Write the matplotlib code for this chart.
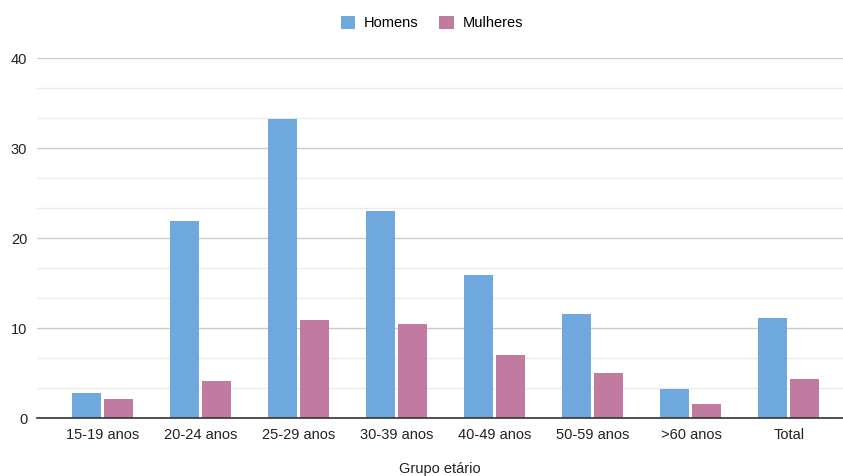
import numpy as np
import matplotlib.pyplot as plt
from matplotlib.patches import Patch
from matplotlib.ticker import MultipleLocator

categories = ['15-19 anos', '20-24 anos', '25-29 anos', '30-39 anos',
              '40-49 anos', '50-59 anos', '>60 anos', 'Total']
homens = [2.8, 21.9, 33.2, 23.0, 15.9, 11.6, 3.2, 11.1]
mulheres = [2.1, 4.1, 10.9, 10.4, 7.0, 5.0, 1.6, 4.3]

plt.rcParams['font.family'] = ['Liberation Sans', 'DejaVu Sans']

c_h = '#6fa8dc'
c_m = '#c27ba0'

fig = plt.figure(figsize=(8.43, 4.76), dpi=100)
ax = fig.add_axes([37 / 843, 58 / 476, 806 / 843, 360 / 476])

x = np.arange(len(categories))
w = 0.3
ax.bar(x - 0.17, homens, w, color=c_h, zorder=3)
ax.bar(x + 0.16, mulheres, w, color=c_m, zorder=3)

ax.set_xlim(-0.673, 7.55)
ax.set_ylim(0, 40)
ax.yaxis.set_major_locator(MultipleLocator(10))
ax.yaxis.set_minor_locator(MultipleLocator(10 / 3))
ax.grid(axis='y', which='major', color='#cccccc', linewidth=1, zorder=0)
ax.grid(axis='y', which='minor', color='#ebebeb', linewidth=1, zorder=0)

ax.set_xticks(x)
ax.set_xticklabels(categories)
ax.tick_params(axis='both', which='both', length=0, labelsize=10.5, colors='#222222')
ax.tick_params(axis='x', pad=7)
ax.tick_params(axis='y', pad=7)
for s in ['top', 'right', 'left']:
    ax.spines[s].set_visible(False)
ax.spines['bottom'].set_color('#333333')
ax.spines['bottom'].set_linewidth(1.2)
ax.spines['bottom'].set_zorder(4)

ax.set_xlabel('Grupo etário', fontsize=10.5, color='#222222')
ax.xaxis.set_label_coords(0.5, -44 / 360)

handles = [Patch(facecolor=c_h, label='Homens'), Patch(facecolor=c_m, label='Mulheres')]
fig.legend(handles=handles, loc='center', bbox_to_anchor=(432 / 843, 1 - 23 / 476),
           ncol=2, frameon=False, fontsize=10.5, handlelength=1.0, handleheight=1.0,
           handletextpad=0.6, columnspacing=1.4)

fig.savefig('out.png', dpi=100)
